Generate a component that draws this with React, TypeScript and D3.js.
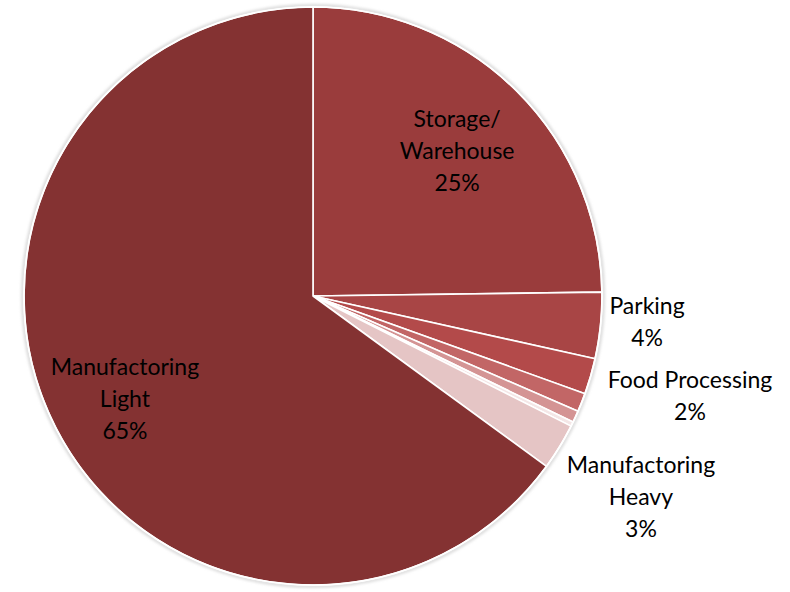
import React from "react";
import * as d3 from "d3";

// Land-use categories, clockwise from 12 o'clock
const categories = [
  "Storage/ Warehouse",
  "Parking",
  "Food Processing",
  "Other A",
  "Other B",
  "Other C",
  "Manufactoring Heavy",
  "Manufactoring Light",
];
// Share of total (percent)
const shares = [24.8, 3.7, 2.0, 1.05, 0.65, 0.25, 2.6, 65.0];
// Label text lines per category (empty = unlabelled slice)
const labelLines: string[][] = [
  ["Storage/", "Warehouse"],
  ["Parking"],
  ["Food Processing"],
  [],
  [],
  [],
  ["Manufactoring", "Heavy"],
  ["Manufactoring", "Light"],
];
const sliceColors = [
  "#9a3c3c",
  "#a84545",
  "#b34a4a",
  "#c26666",
  "#d49494",
  "#f4e6e6",
  "#e5c5c5",
  "#843232",
];
// Label placement: radius factor relative to pie radius, plus fine nudges
const labelRadius = [0.71, 1.155, 1.34, 0, 0, 0, 1.33, 0.73];
const labelNudgeX = [0, 2, 5, 0, 0, 0, 0, 0];
const labelNudgeY = [0, -9, -9, 0, 0, 0, 0, 6];

const W = 790;
const H = 592;
const cx = 313;
const cy = 296;
const R = 289;
const lineH = 32;

export default function App() {
  const data = categories.map((c, i) => ({ c, v: shares[i], i }));
  const pie = d3
    .pie<any>()
    .sort(null)
    .value((d) => d.v)
    .startAngle(0)
    .endAngle(2 * Math.PI);
  const arcs = pie(data);
  const arc = d3.arc<any>().innerRadius(0).outerRadius(R);

  return (
    <svg
      width={W}
      height={H}
      style={{ position: "absolute", left: 0, top: 0, background: "#fff" }}
      fontFamily="Lato, 'Noto Sans', sans-serif"
    >
      <defs>
        <filter id="sh" x="-10%" y="-10%" width="120%" height="120%">
          <feGaussianBlur stdDeviation="1.5" />
        </filter>
      </defs>
      <g transform={`translate(${cx},${cy})`}>
        <circle r={R + 1.5} fill="none" stroke="#c8c8c8" strokeWidth={2} filter="url(#sh)" />
        {arcs.map((a, i) => (
          <path
            key={i}
            d={arc(a) || ""}
            fill={sliceColors[i]}
            stroke="#fff"
            strokeWidth={1.6}
            strokeLinejoin="round"
          />
        ))}
        <circle r={R} fill="none" stroke="#fff" strokeWidth={1.6} />
        {arcs.map((a, i) => {
          const lines = labelLines[i];
          if (!lines.length) return null;
          const mid = (a.startAngle + a.endAngle) / 2;
          const rr = labelRadius[i] * R;
          const x = rr * Math.sin(mid) + labelNudgeX[i];
          const y = -rr * Math.cos(mid) + labelNudgeY[i];
          const all = [...lines, `${Math.round(shares[i])}%`];
          const y0 = y - ((all.length - 1) * lineH) / 2;
          return (
            <text
              key={i}
              x={x}
              textAnchor="middle"
              fontSize={23}
              fill="#000"
              dominantBaseline="central"
            >
              {all.map((t, j) => (
                <tspan key={j} x={x} y={y0 + j * lineH}>
                  {t}
                </tspan>
              ))}
            </text>
          );
        })}
      </g>
    </svg>
  );
}
